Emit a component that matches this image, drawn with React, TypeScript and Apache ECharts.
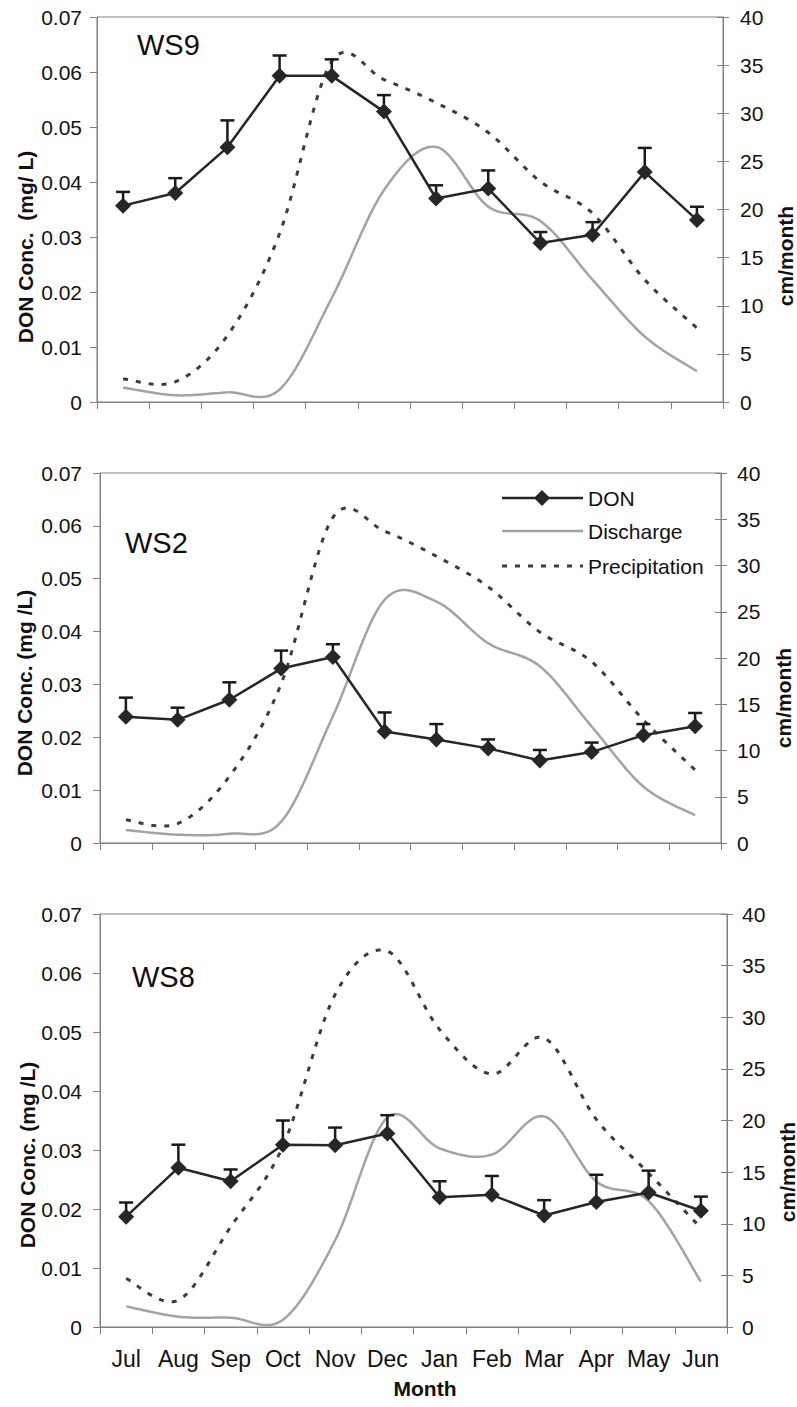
import React, { useEffect, useRef } from 'react';
import * as echarts from 'echarts';

const months = ['Jul', 'Aug', 'Sep', 'Oct', 'Nov', 'Dec', 'Jan', 'Feb', 'Mar', 'Apr', 'May', 'Jun'];
const legendNames = ['DON', 'Discharge', 'Precipitation'];

// WS9
const don9 = [0.0357, 0.038, 0.0463, 0.0593, 0.0593, 0.0528, 0.037, 0.0388, 0.0289, 0.0304, 0.0418, 0.0331];
const donErr9 = [0.0382, 0.0407, 0.0512, 0.063, 0.0623, 0.0558, 0.0394, 0.0421, 0.0309, 0.0327, 0.0462, 0.0355];
const discharge9 = [1.5, 0.7, 1.0, 1.3, 10.8, 22.0, 26.5, 20.3, 18.8, 12.7, 6.8, 3.2];
const precip9 = [2.4, 2.1, 6.9, 17.5, 35.4, 33.5, 31.1, 28.0, 22.9, 19.6, 12.7, 7.7];

// WS2
const don2 = [0.0239, 0.0233, 0.0271, 0.033, 0.0352, 0.0211, 0.0196, 0.0179, 0.0156, 0.0172, 0.0204, 0.0221];
const donErr2 = [0.0275, 0.0256, 0.0304, 0.0364, 0.0376, 0.0247, 0.0225, 0.0196, 0.0176, 0.019, 0.0225, 0.0246];
const discharge2 = [1.4, 0.9, 1.0, 2.3, 13.7, 26.3, 26.1, 21.6, 19.1, 12.6, 6.1, 3.0];
const precip2 = [2.5, 2.1, 7.2, 17.2, 35.2, 33.7, 31.0, 27.7, 22.8, 19.6, 13.3, 7.9];

// WS8
const don8 = [0.0187, 0.027, 0.0247, 0.0309, 0.0308, 0.0328, 0.022, 0.0224, 0.0189, 0.0212, 0.0228, 0.0197];
const donErr8 = [0.0211, 0.0309, 0.0267, 0.035, 0.0338, 0.0359, 0.0247, 0.0256, 0.0215, 0.0258, 0.0265, 0.0221];
const discharge8 = [2.0, 1.0, 0.9, 0.7, 8.4, 20.3, 17.3, 16.7, 20.4, 14.1, 12.2, 4.4];
const precip8 = [4.7, 2.6, 9.7, 17.5, 32.2, 36.4, 28.8, 24.5, 28.0, 20.1, 14.9, 9.6];

const panels = [
  { name: 'WS9', don: don9, err: donErr9, discharge: discharge9, precip: precip9 },
  { name: 'WS2', don: don2, err: donErr2, discharge: discharge2, precip: precip2 },
  { name: 'WS8', don: don8, err: donErr8, discharge: discharge8, precip: precip8 },
];

const FONT = '"Liberation Sans", Arial, Helvetica, sans-serif';
const AXIS = '#808080';
const INK = '#111111';
const DON_C = '#262626';
const DIS_C = '#a3a3a3';
const PRE_C = '#3c3c3c';
const PRE_DASH = [5, 8];

const layout = [
  { left: 97, top: 17, width: 626, height: 385, lMargin: 15, rMargin: 17, title: [137, 45], yt: [25, 247], rt: [785, 256], yTitle: 'DON Conc.  (mg/ L)' },
  { left: 100, top: 473, width: 621, height: 370, lMargin: 18, rMargin: 16, title: [125, 543], yt: [24, 683], rt: [783, 698], yTitle: 'DON Conc. (mg /L)' },
  { left: 100, top: 914, width: 627, height: 413, lMargin: 18, rMargin: 15, title: [132, 977], yt: [27, 1155], rt: [787, 1172], yTitle: 'DON Conc. (mg /L)' },
];

// Excel-like smoothed line (Catmull-Rom through pixel coordinates obtained from the axes)
function smoothPoints(pts: number[][], steps = 20): number[][] {
  const n = pts.length;
  const out: number[][] = [];
  for (let i = 0; i < n - 1; i++) {
    const p0 = pts[Math.max(i - 1, 0)];
    const p1 = pts[i];
    const p2 = pts[i + 1];
    const p3 = pts[Math.min(i + 2, n - 1)];
    const c1 = [p1[0] + (p2[0] - p0[0]) / 6, p1[1] + (p2[1] - p0[1]) / 6];
    const c2 = [p2[0] - (p3[0] - p1[0]) / 6, p2[1] - (p3[1] - p1[1]) / 6];
    for (let s = 0; s < steps; s++) {
      const t = s / steps;
      const u = 1 - t;
      const a = u * u * u, b = 3 * u * u * t, c = 3 * u * t * t, d = t * t * t;
      out.push([a * p1[0] + b * c1[0] + c * c2[0] + d * p2[0], a * p1[1] + b * c1[1] + c * c2[1] + d * p2[1]]);
    }
  }
  out.push(pts[n - 1]);
  return out;
}

function curveSeries(name: string, values: number[], g: number, yAxisIndex: number, color: string, width: number, dash: number[] | null, z: number) {
  return {
    name, type: 'custom', xAxisIndex: g, yAxisIndex, z, clip: true,
    data: values.map((v, i) => [i, v]),
    encode: { x: 0, y: 1 },
    renderItem: (params: any, api: any) => {
      if (params.dataIndexInside !== 0) return { type: 'group', children: [] };
      const pts = values.map((v, i) => api.coord([i, v]));
      const style: any = { stroke: color, lineWidth: width, fill: 'none' };
      if (dash) style.lineDash = dash;
      return { type: 'polyline', shape: { points: smoothPoints(pts) }, style };
    },
  };
}

function buildOption() {
  const grid: any[] = [];
  const xAxis: any[] = [];
  const yAxis: any[] = [];
  const series: any[] = [];
  const graphic: any[] = [];

  panels.forEach((p, g) => {
    const L = layout[g];
    grid.push({ left: L.left, top: L.top, width: L.width, height: L.height, show: true, borderColor: AXIS, borderWidth: 1, containLabel: false });
    xAxis.push({
      type: 'category', gridIndex: g, data: months, boundaryGap: true,
      axisLine: { lineStyle: { color: AXIS, width: 1 } },
      axisTick: { show: true, length: 7, inside: false, lineStyle: { color: AXIS } },
      axisLabel: { show: g === 2, fontSize: 23, fontFamily: FONT, color: INK, margin: 20, interval: 0 },
      splitLine: { show: false },
    });
    yAxis.push({
      type: 'value', gridIndex: g, position: 'left', min: 0, max: 0.07, interval: 0.01,
      axisLine: { show: true, lineStyle: { color: AXIS } },
      axisTick: { show: true, length: 7, lineStyle: { color: AXIS } },
      axisLabel: { fontSize: 21, fontFamily: FONT, color: INK, margin: L.lMargin, formatter: (v: number) => (v === 0 ? '0' : v.toFixed(2)) },
      splitLine: { show: false },
    });
    yAxis.push({
      type: 'value', gridIndex: g, position: 'right', min: 0, max: 40, interval: 5,
      axisLine: { show: true, lineStyle: { color: AXIS } },
      axisTick: { show: true, length: 6, lineStyle: { color: AXIS } },
      axisLabel: { fontSize: 21, fontFamily: FONT, color: INK, margin: L.rMargin },
      splitLine: { show: false },
    });
    yAxis.push({
      type: 'value', gridIndex: g, position: 'right', min: 0, max: 40, interval: 5,
      axisLine: { show: false },
      axisTick: { show: true, inside: true, length: 6, lineStyle: { color: AXIS } },
      axisLabel: { show: false },
      splitLine: { show: false },
    });
    const yl = g * 3;
    const yr = g * 3 + 1;

    series.push(curveSeries('Precipitation', p.precip, g, yr, PRE_C, 3, PRE_DASH, 2));
    series.push(curveSeries('Discharge', p.discharge, g, yr, DIS_C, 2.5, null, 3));
    series.push({
      name: 'err' + p.name, type: 'custom', xAxisIndex: g, yAxisIndex: yl, z: 4,
      data: p.don.map((v, i) => [i, v, p.err[i]]),
      encode: { x: 0, y: [1, 2] },
      renderItem: (params: any, api: any) => {
        const i = api.value(0);
        const a = api.coord([i, api.value(1)]);
        const b = api.coord([i, api.value(2)]);
        const st = { stroke: '#1a1a1a', lineWidth: 2.5 };
        return {
          type: 'group',
          children: [
            { type: 'line', shape: { x1: a[0], y1: a[1], x2: b[0], y2: b[1] }, style: st },
            { type: 'line', shape: { x1: b[0] - 7, y1: b[1], x2: b[0] + 7, y2: b[1] }, style: st },
          ],
        };
      },
    });
    series.push({
      name: 'DON', type: 'line', xAxisIndex: g, yAxisIndex: yl, data: p.don,
      symbol: 'diamond', symbolSize: 16, showSymbol: true, z: 5,
      lineStyle: { color: DON_C, width: 2.5 },
      itemStyle: { color: DON_C },
    });

    graphic.push({
      type: 'text', x: L.title[0], y: L.title[1],
      style: { text: p.name, fontSize: 29, fontFamily: FONT, fill: '#111', align: 'left', verticalAlign: 'middle', textAlign: 'left', textVerticalAlign: 'middle' },
    });
    graphic.push({
      type: 'text', x: L.yt[0], y: L.yt[1], rotation: Math.PI / 2,
      style: { text: L.yTitle, fontSize: 21, fontWeight: 'bold', fontFamily: FONT, fill: '#111', align: 'center', verticalAlign: 'middle', textAlign: 'center', textVerticalAlign: 'middle' },
    });
    graphic.push({
      type: 'text', x: L.rt[0], y: L.rt[1], rotation: Math.PI / 2,
      style: { text: 'cm/month', fontSize: 21, fontWeight: 'bold', fontFamily: FONT, fill: '#111', align: 'center', verticalAlign: 'middle', textAlign: 'center', textVerticalAlign: 'middle' },
    });
  });

  graphic.push({
    type: 'text', x: 425, y: 1388,
    style: { text: 'Month', fontSize: 21, fontWeight: 'bold', fontFamily: FONT, fill: '#111', align: 'center', verticalAlign: 'middle', textAlign: 'center', textVerticalAlign: 'middle' },
  });

  // legend (inside the WS2 panel)
  const lx0 = 502, lx1 = 583, rows = [498, 531, 566];
  graphic.push({ type: 'line', shape: { x1: lx0, y1: rows[0], x2: lx1, y2: rows[0] }, style: { stroke: DON_C, lineWidth: 2.5 }, z: 100 });
  graphic.push({ type: 'polygon', shape: { points: [[542, rows[0] - 8], [550, rows[0]], [542, rows[0] + 8], [534, rows[0]]] }, style: { fill: DON_C }, z: 101 });
  graphic.push({ type: 'line', shape: { x1: lx0, y1: rows[1], x2: lx1, y2: rows[1] }, style: { stroke: DIS_C, lineWidth: 2.5 }, z: 100 });
  graphic.push({ type: 'line', shape: { x1: lx0, y1: rows[2], x2: lx1, y2: rows[2] }, style: { stroke: PRE_C, lineWidth: 3, lineDash: PRE_DASH }, z: 100 });
  legendNames.forEach((nm, k) => {
    graphic.push({
      type: 'text', x: 588, y: rows[k], z: 100,
      style: { text: nm, fontSize: 21, fontFamily: FONT, fill: INK, align: 'left', verticalAlign: 'middle', textAlign: 'left', textVerticalAlign: 'middle' },
    });
  });

  return {
    animation: false,
    backgroundColor: '#ffffff',
    textStyle: { fontFamily: FONT },
    grid,
    xAxis,
    yAxis,
    series,
    graphic,
  };
}

export default function App() {
  const ref = useRef<HTMLDivElement>(null);
  useEffect(() => {
    if (!ref.current) return;
    const chart = echarts.init(ref.current, null, { renderer: 'svg' });
    chart.setOption(buildOption() as any);
    return () => chart.dispose();
  }, []);
  return <div ref={ref} style={{ position: 'absolute', left: 0, top: 0, width: 797, height: 1407, background: '#fff' }} />;
}
